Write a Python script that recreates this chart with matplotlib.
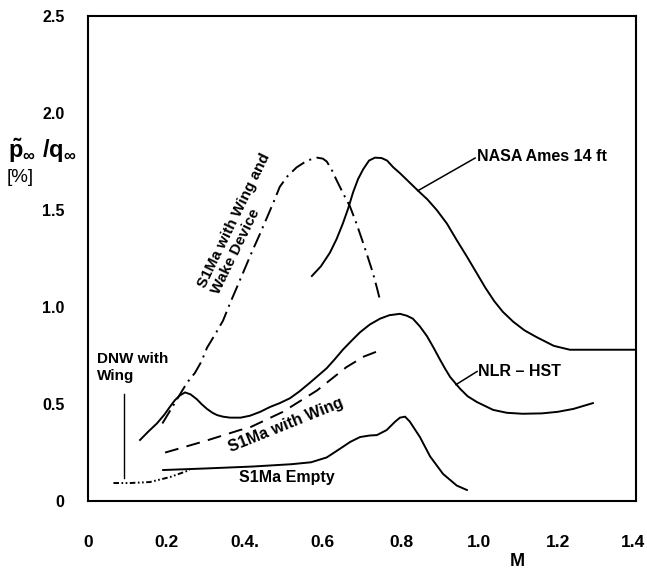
import numpy as np
import matplotlib
matplotlib.use("Agg")
import matplotlib.pyplot as plt

plt.rcParams['font.family'] = ['Liberation Sans', 'DejaVu Sans']
plt.rcParams['font.weight'] = 'bold'
plt.rcParams['mathtext.fontset'] = 'custom'
plt.rcParams['mathtext.rm'] = 'Liberation Sans:bold'
plt.rcParams['mathtext.it'] = 'Liberation Sans:bold'
plt.rcParams['mathtext.bf'] = 'Liberation Sans:bold'
plt.rcParams['lines.scale_dashes'] = False

# NASA Ames 14 ft
nasa_m = [0.572, 0.595, 0.618, 0.635, 0.651, 0.665, 0.677, 0.69, 0.703, 0.718,
          0.733, 0.75, 0.764, 0.78, 0.797, 0.82, 0.843, 0.867, 0.891, 0.917,
          0.942, 0.968, 0.993, 1.015, 1.038, 1.06, 1.086, 1.115, 1.146, 1.19,
          1.231, 1.40]
nasa_p = [1.16, 1.21, 1.28, 1.35, 1.43, 1.51, 1.59, 1.66, 1.71, 1.755,
          1.77, 1.768, 1.755, 1.72, 1.69, 1.645, 1.60, 1.555, 1.50, 1.43,
          1.345, 1.26, 1.175, 1.10, 1.03, 0.975, 0.925, 0.88, 0.845, 0.80,
          0.78, 0.78]

# S1Ma with Wing and Wake Device
wake_m = [0.19, 0.217, 0.253, 0.273, 0.29, 0.304, 0.325, 0.345, 0.363, 0.38,
          0.40, 0.42, 0.44, 0.457, 0.475, 0.49, 0.51, 0.533, 0.56, 0.585,
          0.60, 0.61, 0.622, 0.636, 0.652, 0.669, 0.686, 0.703, 0.716, 0.728,
          0.738, 0.746]
wake_p = [0.40, 0.49, 0.61, 0.66, 0.72, 0.79, 0.86, 0.93, 1.02, 1.10,
          1.195, 1.29, 1.38, 1.46, 1.545, 1.62, 1.675, 1.72, 1.755, 1.77,
          1.765, 1.75, 1.71, 1.65, 1.585, 1.52, 1.43, 1.33, 1.25, 1.175,
          1.10, 1.036]

# NLR - HST
nlr_m = [0.133, 0.155, 0.176, 0.195, 0.209, 0.222, 0.235, 0.248, 0.262, 0.278,
         0.29, 0.304, 0.318, 0.33, 0.345, 0.363, 0.39, 0.414, 0.44, 0.465,
         0.49, 0.516, 0.54, 0.567, 0.59, 0.61, 0.63, 0.651, 0.675, 0.695,
         0.72, 0.746, 0.77, 0.797, 0.815, 0.83, 0.848, 0.866, 0.883, 0.899,
         0.913, 0.925, 0.95, 0.97, 0.994, 1.035, 1.07, 1.11, 1.16, 1.2,
         1.24, 1.29]
nlr_p = [0.315, 0.36, 0.40, 0.445, 0.485, 0.52, 0.545, 0.56, 0.55, 0.525,
         0.50, 0.475, 0.455, 0.443, 0.435, 0.43, 0.43, 0.44, 0.46, 0.485,
         0.505, 0.53, 0.565, 0.61, 0.65, 0.685, 0.73, 0.78, 0.83, 0.87,
         0.91, 0.94, 0.958, 0.965, 0.955, 0.94, 0.90, 0.85, 0.79, 0.73,
         0.68, 0.64, 0.58, 0.54, 0.51, 0.47, 0.455, 0.45, 0.452, 0.46,
         0.475, 0.505]

# S1Ma with Wing
wing_m = [0.197, 0.30, 0.388, 0.414, 0.498, 0.585, 0.66, 0.705, 0.75]
wing_p = [0.25, 0.31, 0.366, 0.38, 0.46, 0.57, 0.69, 0.745, 0.78]

# S1Ma Empty
empty_m = [0.192, 0.30, 0.42, 0.52, 0.57, 0.61, 0.644, 0.67, 0.695, 0.72,
           0.738, 0.763, 0.785, 0.797, 0.81, 0.822, 0.848, 0.874, 0.907, 0.942,
           0.968]
empty_p = [0.16, 0.168, 0.178, 0.19, 0.20, 0.225, 0.27, 0.305, 0.33, 0.338,
           0.34, 0.366, 0.41, 0.43, 0.435, 0.41, 0.33, 0.23, 0.14, 0.08,
           0.057]

# DNW with Wing
dnw_m = [0.065, 0.107, 0.158, 0.21, 0.26]
dnw_p = [0.093, 0.093, 0.098, 0.124, 0.16]

xtick_vals = [0, 0.2, 0.4, 0.6, 0.8, 1.0, 1.2, 1.4]
xtick_labels = ['0', '0.2', '0.4.', '0.6', '0.8', '1.0', '1.2', '1.4']
ytick_vals = [0, 0.5, 1.0, 1.5, 2.0, 2.5]
ytick_labels = ['0', '0.5', '1.0', '1.5', '2.0', '2.5']

fig = plt.figure(figsize=(6.47, 5.72), dpi=100)
ax = fig.add_axes([0.136, 0.124, 0.847, 0.848])

lw = 1.4
kw = dict(color='black', lw=lw, solid_joinstyle='round', dash_joinstyle='round')
ax.plot(nasa_m, nasa_p, **kw)
ax.plot(nlr_m, nlr_p, **kw)
ax.plot(empty_m, empty_p, **kw)
ax.plot(wing_m, wing_p, dashes=(10, 6), **kw)
ax.plot(wake_m, wake_p, dashes=(11, 4, 1.5, 4), **kw)
ax.plot(dnw_m, dnw_p, dashes=(4, 1.8, 1.2, 1.8, 1.2, 1.8), **kw)

# leader lines
ax.plot([0.843, 0.989], [1.60, 1.768], color='black', lw=1.1)
ax.plot([0.94, 0.994], [0.60, 0.668], color='black', lw=1.1)
ax.plot([0.092, 0.092], [0.12, 0.55], color='black', lw=1.0)

ax.text(0.994, 1.775, 'NASA Ames 14 ft', fontsize=11.5, va='center', ha='left')
ax.text(0.996, 0.668, 'NLR – HST', fontsize=11.5, va='center', ha='left')
ax.text(0.023, 0.77, 'DNW with\nWing', fontsize=11, va='top', ha='left', linespacing=1.3)
ax.text(0.505, 0.39, 'S1Ma with Wing', fontsize=11.5, rotation=22,
        ha='center', va='center', rotation_mode='anchor')
ax.text(0.507, 0.122, 'S1Ma Empty', fontsize=11.5, ha='center', va='center')
ax.text(0.39, 1.43, 'S1Ma with Wing and\nWake Device', fontsize=11, rotation=64,
        ha='center', va='center', rotation_mode='anchor', multialignment='left',
        linespacing=1.15)

ax.set_xlim(0, 1.4)
ax.set_ylim(0, 2.5)

# x labels drawn as text below the axis, marks via minor ticks
ax.set_xticks(xtick_vals)
ax.set_xticklabels([])
for v, lab in zip(xtick_vals, xtick_labels):
    xv = min(v, 1.392)
    ax.text(xv, -0.086, lab, transform=ax.get_xaxis_transform(),
            fontsize=12.5, ha='center', va='center')
ax.set_yticks(ytick_vals)
ax.set_yticklabels(ytick_labels, fontsize=11.5)
ax.tick_params(axis='x', which='major', length=0)
ax.tick_params(axis='y', which='major', length=0, pad=17)
ax.set_xticks(xtick_vals[1:-1], minor=True)
ax.set_yticks(ytick_vals[1:-1], minor=True)
ax.tick_params(which='minor', direction='in', length=8, width=1.3)
ax.tick_params(axis='x', which='minor', length=7)

for s in ax.spines.values():
    s.set_linewidth(1.5)

fig.text(0.8, 0.003, 'M', fontsize=13, ha='center', va='bottom')
fig.text(0.012, 0.737, r'$\tilde{\mathrm{p}}_{\infty}\ /\mathrm{q}_{\infty}$',
         fontsize=17, ha='left', va='center')
fig.text(0.01, 0.69, '[%]', fontsize=13.5, ha='left', va='center', fontweight='normal')

fig.savefig('out.png', dpi=100)
